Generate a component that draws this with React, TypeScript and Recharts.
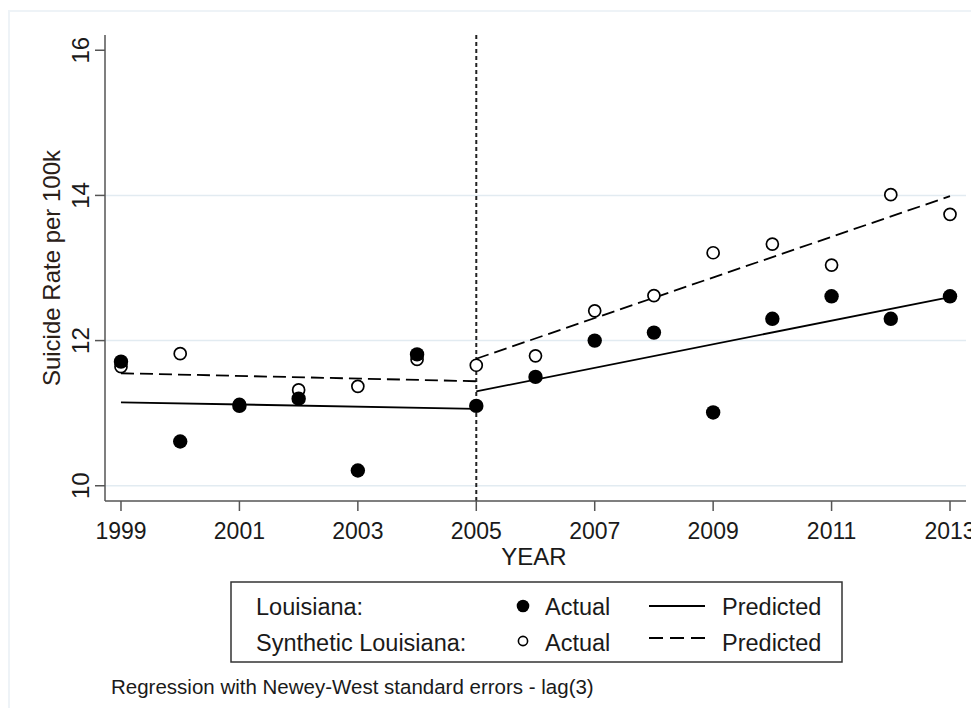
import React from "react";
import {
  ComposedChart,
  Line,
  Scatter,
  XAxis,
  YAxis,
  CartesianGrid,
  ReferenceLine,
} from "recharts";

// years on the x axis
const years = [1999, 2000, 2001, 2002, 2003, 2004, 2005, 2006, 2007, 2008, 2009, 2010, 2011, 2012, 2013];

// actual rates
const louisianaActual = [11.71, 10.61, 11.1, 11.2, 10.21, 11.81, 11.1, 11.5, 12.0, 12.11, 11.01, 12.3, 12.61, 12.3, 12.61];
const syntheticActual = [11.64, 11.82, 11.12, 11.32, 11.37, 11.74, 11.66, 11.79, 12.41, 12.62, 13.21, 13.33, 13.04, 14.01, 13.74];

// fitted segments (pre / post 2005)
const louisianaPredPre = [{ year: 1999, v: 11.15 }, { year: 2005, v: 11.06 }];
const louisianaPredPost = [{ year: 2005, v: 11.3 }, { year: 2013, v: 12.6 }];
const syntheticPredPre = [{ year: 1999, v: 11.55 }, { year: 2005, v: 11.44 }];
const syntheticPredPost = [{ year: 2005, v: 11.75 }, { year: 2013, v: 13.99 }];

const xTicks = [1999, 2001, 2003, 2005, 2007, 2009, 2011, 2013];
const yTicks = [10, 12, 14, 16];
const gridValues = [10, 12, 14];

const louData = years.map((year, i) => ({ year, v: louisianaActual[i] }));
const synData = years.map((year, i) => ({ year, v: syntheticActual[i] }));

const FONT = "'Liberation Sans', Arial, sans-serif";
const INK = "#1a1a1a";
const AXIS = "#555";

const XTick = ({ x, y, payload }: any) => (
  <text x={x} y={y + 28} textAnchor="middle" fontSize={23} fontFamily={FONT} fill={INK}>
    {payload.value}
  </text>
);

const YTick = ({ x, y, payload }: any) => {
  const cx = x - 14;
  return (
    <text
      x={cx}
      y={y}
      transform={`rotate(-90, ${cx}, ${y})`}
      textAnchor="middle"
      dominantBaseline="central"
      fontSize={24}
      fontFamily={FONT}
      fill={INK}
    >
      {payload.value}
    </text>
  );
};

const filledDot = (p: any) => <circle cx={p.cx} cy={p.cy} r={7.2} fill="#000" />;
const hollowDot = (p: any) => (
  <circle cx={p.cx} cy={p.cy} r={6} fill="#fff" stroke="#000" strokeWidth={1.7} />
);

export default function App() {
  return (
    <div style={{ position: "relative", width: 963, height: 700, fontFamily: FONT }}>
      {/* faint outer frame */}
      <div
        style={{
          position: "absolute",
          left: 0,
          top: 2,
          width: 970,
          height: 705,
          borderTop: "2px solid #eef3f7",
          borderLeft: "2px solid #eef3f7",
          boxSizing: "border-box",
        }}
      />
      <ComposedChart
        width={971}
        height={700}
        margin={{ top: 27, right: 13, left: 37, bottom: 167 }}
        style={{ position: "absolute", left: 0, top: 0 }}
      >
        <CartesianGrid horizontal vertical={false} horizontalValues={gridValues} stroke="#e2ebf1" strokeWidth={1.5} />
        <XAxis
          dataKey="year"
          type="number"
          domain={[1998.73, 2013.27]}
          ticks={xTicks}
          allowDataOverflow
          height={40}
          tickSize={10}
          tickMargin={0}
          stroke={AXIS}
          strokeWidth={1.5}
          tick={<XTick />}
          interval={0}
        />
        <YAxis
          dataKey="v"
          type="number"
          domain={[9.79, 16.21]}
          ticks={yTicks}
          allowDataOverflow
          width={60}
          tickSize={10}
          tickMargin={0}
          stroke={AXIS}
          strokeWidth={1.5}
          tick={<YTick />}
          interval={0}
        />
        <ReferenceLine x={2005} stroke="#222" strokeWidth={2} strokeDasharray="4 3" />
        <Line data={louisianaPredPre} dataKey="v" stroke="#000" strokeWidth={1.8} dot={false} isAnimationActive={false} />
        <Line data={louisianaPredPost} dataKey="v" stroke="#000" strokeWidth={1.8} dot={false} isAnimationActive={false} />
        <Line data={syntheticPredPre} dataKey="v" stroke="#000" strokeWidth={1.8} strokeDasharray="13 6" dot={false} isAnimationActive={false} />
        <Line data={syntheticPredPost} dataKey="v" stroke="#000" strokeWidth={1.8} strokeDasharray="13 6" dot={false} isAnimationActive={false} />
        <Scatter data={synData} dataKey="v" shape={hollowDot} isAnimationActive={false} />
        <Scatter data={louData} dataKey="v" shape={filledDot} isAnimationActive={false} />
      </ComposedChart>

      {/* axis titles, legend and note */}
      <svg width={963} height={700} style={{ position: "absolute", left: 0, top: 0, pointerEvents: "none" }}>
        <text
          x={43}
          y={260}
          transform="rotate(-90, 43, 260)"
          textAnchor="middle"
          dominantBaseline="central"
          fontSize={24}
          fontFamily={FONT}
          fill="#2a2018"
        >
          Suicide Rate per 100k
        </text>
        <text x={526} y={557} textAnchor="middle" fontSize={24} fontFamily={FONT} fill={INK}>
          YEAR
        </text>

        <rect x={223} y={574} width={611} height={80} fill="#fff" stroke="#333" strokeWidth={1.5} />
        <text x={248} y={607} fontSize={23.5} fontFamily={FONT} fill={INK}>Louisiana:</text>
        <text x={248} y={643} fontSize={23.5} fontFamily={FONT} fill={INK}>Synthetic Louisiana:</text>
        <circle cx={515} cy={598} r={6.3} fill="#000" />
        <circle cx={515} cy={633} r={4.6} fill="#fff" stroke="#000" strokeWidth={1.6} />
        <text x={537} y={607} fontSize={23.5} fontFamily={FONT} fill={INK}>Actual</text>
        <text x={537} y={643} fontSize={23.5} fontFamily={FONT} fill={INK}>Actual</text>
        <line x1={641} y1={598} x2={697} y2={598} stroke="#000" strokeWidth={1.8} />
        <line x1={641} y1={630} x2={697} y2={630} stroke="#000" strokeWidth={1.8} strokeDasharray="14 7" />
        <text x={714} y={607} fontSize={23.5} fontFamily={FONT} fill={INK}>Predicted</text>
        <text x={714} y={643} fontSize={23.5} fontFamily={FONT} fill={INK}>Predicted</text>

        <text x={103} y={686} fontSize={20.5} fontFamily={FONT} fill={INK}>
          Regression with Newey-West standard errors - lag(3)
        </text>
      </svg>
    </div>
  );
}
